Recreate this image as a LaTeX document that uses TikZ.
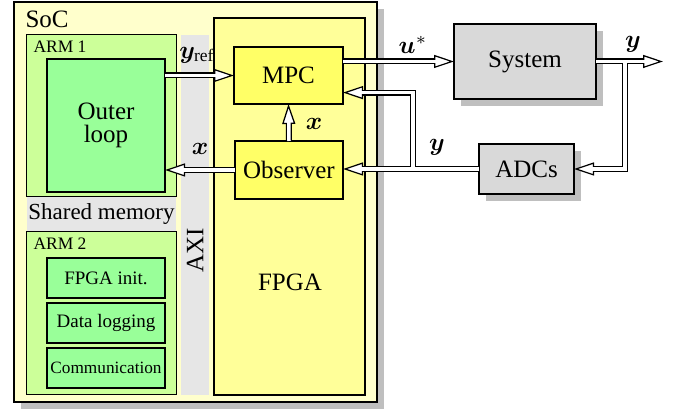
\documentclass[tikz,border=0pt]{standalone}
\usepackage{fontspec}
\setmainfont{Liberation Serif}
\usepackage{bm}
\usetikzlibrary{arrows.meta,shadows,calc}
\definecolor{socc}{HTML}{FFFFCC}
\definecolor{fpgac}{HTML}{FFFF99}
\definecolor{mpcc}{HTML}{FFFF66}
\definecolor{armc}{HTML}{CCFF99}
\definecolor{olc}{HTML}{99FF99}
\definecolor{grayc}{HTML}{E6E6E6}
\definecolor{sysc}{HTML}{D9D9D9}
\newcommand{\fsz}[1]{\fontsize{#1}{#1}\selectfont}
\begin{document}
\begin{tikzpicture}[x=0.4pt,y=-0.4pt,
  box/.style={draw, inner sep=0pt, outer sep=0pt},
  shad/.style={drop shadow={shadow xshift=2.7pt, shadow yshift=-2.7pt, fill=black!25, opacity=1}},
  socbox/.style={box, fill=socc, line width=0.5pt, shad},
  fpgabox/.style={box, fill=fpgac, line width=0.5pt},
  armbox/.style={box, fill=armc, line width=0.4pt},
  graybox/.style={inner sep=0pt, outer sep=0pt, fill=grayc},
  blk/.style={box, fill=olc, line width=0.9pt},
  ybox/.style={box, fill=mpcc, line width=0.9pt, font=\fsz{10pt}},
  sysbox/.style={box, fill=sysc, line width=0.6pt, shad, font=\fsz{10pt}},
  pipeO/.style={line width=2.4pt, draw=black},
  tipO/.style={-{Triangle[length=8pt,width=5.2pt,line width=0.5pt,fill=white]}},
  pipeI/.style={line width=1.4pt, draw=white},
  tipI/.style={shorten >=4.5pt},
  lbl/.style={inner sep=0pt, font=\fsz{10pt}}
]
\useasboundingbox (0,0) rectangle (673,411);
% containers
\node[socbox, minimum width=145.2pt, minimum height=160pt] (soc) at (195.5,202) {};
\node[lbl, anchor=west] (soct) at (25,19) {SoC};
\node[graybox, minimum width=11.2pt, minimum height=144pt] (axi) at (195,215) {};
\node[lbl, rotate=90] (axit) at (195,250) {AXI};
\node[graybox, minimum width=59.6pt, minimum height=14pt] (shm) at (101.5,214.5) {};
\node[lbl, font=\fsz{9.2pt}] (shmt) at (101.5,214) {Shared memory};
\node[armbox, minimum width=59.6pt, minimum height=64.8pt] (arm1) at (101.5,116) {};
\node[lbl, anchor=west, font=\fsz{7pt}] (arm1t) at (33,47) {ARM 1};
\node[armbox, minimum width=59.6pt, minimum height=65.2pt] (arm2) at (101.5,313.5) {};
\node[lbl, anchor=west, font=\fsz{7pt}] (arm2t) at (33,244) {ARM 2};
\node[fpgabox, minimum width=60.4pt, minimum height=150.8pt] (fpga) at (289.5,206.5) {};
\node[lbl] (fpgat) at (290,282) {FPGA};
% blocks
\node[blk, minimum width=47.2pt, minimum height=53.2pt, align=center, font=\fsz{10pt}] (ol) at (106,125.5) {Outer\\[-1pt]loop};
\node[blk, minimum width=47.2pt, minimum height=16pt, font=\fsz{7.6pt}] (init) at (106,278) {FPGA init.};
\node[blk, minimum width=47.2pt, minimum height=16pt, font=\fsz{7.6pt}] (log) at (106,323) {Data logging};
\node[blk, minimum width=47.2pt, minimum height=16pt, font=\fsz{6.9pt}] (com) at (106,368) {Communication};
\node[ybox, minimum width=43.6pt, minimum height=22.8pt] (mpc) at (288.5,75.5) {MPC};
\node[ybox, minimum width=43.2pt, minimum height=23.2pt] (obs) at (289,170) {Observer};
\node[sysbox, minimum width=56.8pt, minimum height=30pt] (sys) at (525,61.5) {System};
\node[sysbox, minimum width=38pt, minimum height=20pt] (adc) at (526.5,169) {ADCs};
% connector points
\coordinate (yout) at (663,61.5);
\coordinate (br1) at (625,61.5);
\coordinate (br2) at (413,169);
\coordinate (mpcin) at ($(mpc.south east)!0.2!(mpc.north east)$);
% pass 1: outer strokes
\foreach \p in {O,I}{
  \draw[pipe\p, tip\p] (ol.east |- mpc.west) -- (mpc.west);
  \draw[pipe\p, tip\p] (mpc.east |- sys.west) -- (sys.west);
  \draw[pipe\p, tip\p] (sys.east) -- (yout);
  \draw[pipe\p, tip\p] (sys.east) -- (br1) |- (adc.east);
  \draw[pipe\p, tip\p] (adc.west) -- (adc.west -| obs.east);
  \draw[pipe\p, tip\p] (adc.west) -- (br2) |- (mpcin);
  \draw[pipe\p, tip\p] (obs.west) -- (obs.west -| ol.east);
  \draw[pipe\p, tip\p] (obs.north) -- (mpc.south);
}
% labels
\node[lbl] (lyref) at (197,55) {$\bm{y}_{\mathrm{ref}}$};
\node[lbl] (lu) at (413,45) {$\bm{u}^{*}$};
\node[lbl] (ly1) at (633,44) {$\bm{y}$};
\node[lbl] (ly2) at (437,147) {$\bm{y}$};
\node[lbl] (lx1) at (314,124) {$\bm{x}$};
\node[lbl] (lx2) at (200,149) {$\bm{x}$};
\end{tikzpicture}
\end{document}
